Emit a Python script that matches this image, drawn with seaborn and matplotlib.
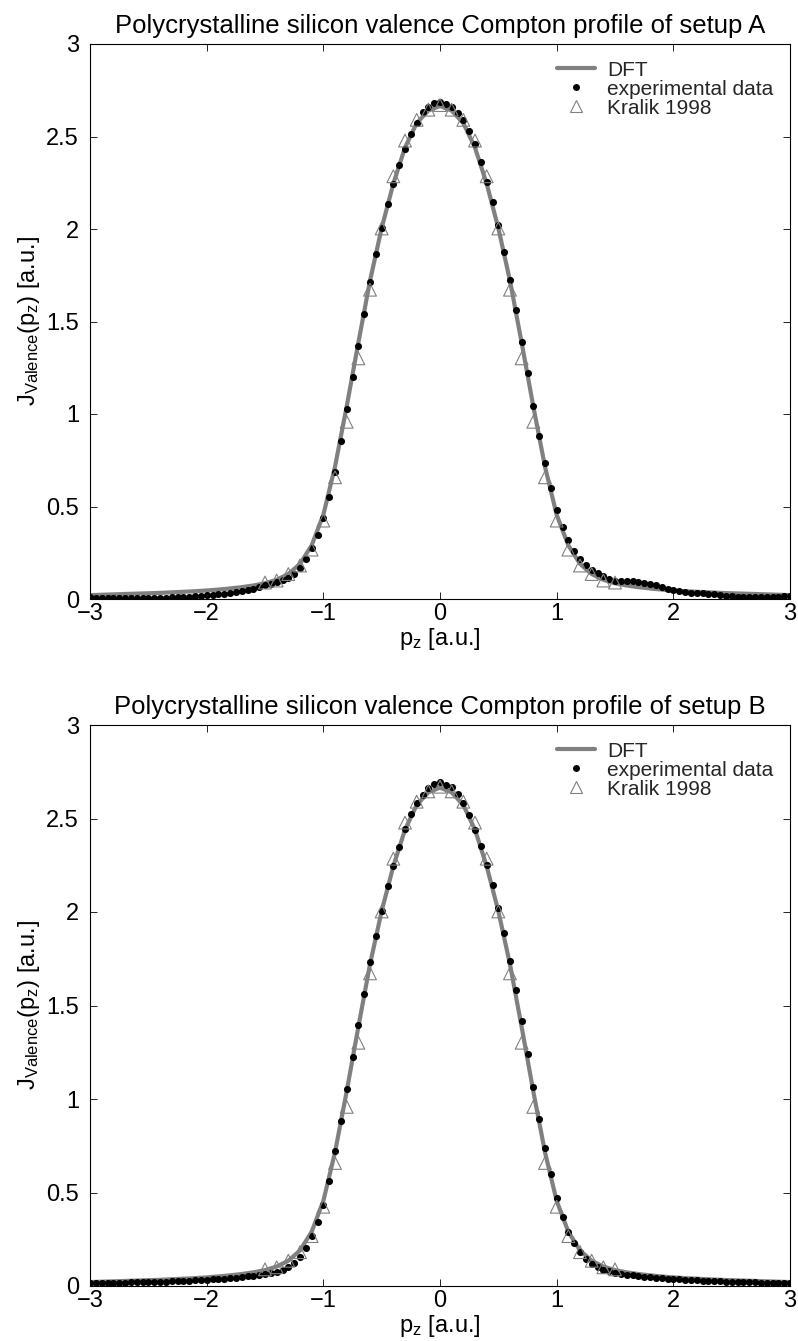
import numpy as np
import pandas as pd
import matplotlib
matplotlib.use("Agg")
import matplotlib.pyplot as plt
import seaborn as sns
from matplotlib.lines import Line2D

# ---------------- data ----------------
pz_exp = [-3.00, -2.95, -2.90, -2.85, -2.80, -2.75, -2.70, -2.65, -2.60, -2.55,
          -2.50, -2.45, -2.40, -2.35, -2.30, -2.25, -2.20, -2.15, -2.10, -2.05,
          -2.00, -1.95, -1.90, -1.85, -1.80, -1.75, -1.70, -1.65, -1.60, -1.55,
          -1.50, -1.45, -1.40, -1.35, -1.30, -1.25, -1.20, -1.15, -1.10, -1.05,
          -1.00, -0.95, -0.90, -0.85, -0.80, -0.75, -0.70, -0.65, -0.60, -0.55,
          -0.50, -0.45, -0.40, -0.35, -0.30, -0.25, -0.20, -0.15, -0.10, -0.05,
          0.00, 0.05, 0.10, 0.15, 0.20, 0.25, 0.30, 0.35, 0.40, 0.45,
          0.50, 0.55, 0.60, 0.65, 0.70, 0.75, 0.80, 0.85, 0.90, 0.95,
          1.00, 1.05, 1.10, 1.15, 1.20, 1.25, 1.30, 1.35, 1.40, 1.45,
          1.50, 1.55, 1.60, 1.65, 1.70, 1.75, 1.80, 1.85, 1.90, 1.95,
          2.00, 2.05, 2.10, 2.15, 2.20, 2.25, 2.30, 2.35, 2.40, 2.45,
          2.50, 2.55, 2.60, 2.65, 2.70, 2.75, 2.80, 2.85, 2.90, 2.95, 3.00]

j_exp_A = [0.010, 0.008, 0.007, 0.007, 0.006, 0.006, 0.006, 0.005, 0.005, 0.006,
           0.006, 0.006, 0.007, 0.008, 0.009, 0.010, 0.011, 0.013, 0.015, 0.017,
           0.020, 0.023, 0.026, 0.029, 0.033, 0.038, 0.043, 0.049, 0.056, 0.064,
           0.073, 0.082, 0.091, 0.101, 0.113, 0.133, 0.165, 0.216, 0.276, 0.347,
           0.439, 0.550, 0.689, 0.856, 1.025, 1.201, 1.369, 1.539, 1.715, 1.865,
           2.004, 2.134, 2.242, 2.344, 2.434, 2.515, 2.574, 2.630, 2.660, 2.681,
           2.688, 2.676, 2.658, 2.629, 2.588, 2.530, 2.457, 2.360, 2.255, 2.145,
           2.023, 1.877, 1.726, 1.561, 1.391, 1.219, 1.045, 0.879, 0.734, 0.602,
           0.482, 0.387, 0.317, 0.258, 0.216, 0.183, 0.158, 0.139, 0.124, 0.109,
           0.100, 0.097, 0.098, 0.097, 0.092, 0.085, 0.080, 0.073, 0.065, 0.056,
           0.048, 0.042, 0.037, 0.034, 0.032, 0.030, 0.027, 0.025, 0.022, 0.018,
           0.015, 0.010, 0.009, 0.009, 0.010, 0.011, 0.012, 0.012, 0.012, 0.014, 0.015]

j_exp_B = [0.015, 0.016, 0.016, 0.017, 0.017, 0.018, 0.018, 0.019, 0.020, 0.020,
           0.021, 0.022, 0.023, 0.024, 0.025, 0.026, 0.027, 0.029, 0.030, 0.032,
           0.034, 0.036, 0.038, 0.040, 0.042, 0.045, 0.048, 0.051, 0.055, 0.059,
           0.064, 0.070, 0.077, 0.087, 0.101, 0.122, 0.155, 0.203, 0.266, 0.343,
           0.435, 0.560, 0.724, 0.884, 1.056, 1.224, 1.395, 1.563, 1.730, 1.870,
           2.008, 2.139, 2.248, 2.350, 2.443, 2.522, 2.583, 2.623, 2.664, 2.686,
           2.693, 2.681, 2.668, 2.632, 2.585, 2.519, 2.440, 2.353, 2.253, 2.145,
           2.020, 1.890, 1.740, 1.583, 1.415, 1.242, 1.063, 0.893, 0.740, 0.600,
           0.470, 0.370, 0.290, 0.228, 0.180, 0.145, 0.118, 0.100, 0.088, 0.079,
           0.072, 0.066, 0.061, 0.057, 0.053, 0.050, 0.047, 0.044, 0.042, 0.040,
           0.038, 0.036, 0.034, 0.032, 0.031, 0.029, 0.028, 0.026, 0.025, 0.024,
           0.023, 0.022, 0.021, 0.020, 0.019, 0.018, 0.018, 0.017, 0.016, 0.016, 0.015]

pz_dft = [-3.0, -2.9, -2.8, -2.7, -2.6, -2.5, -2.4, -2.3, -2.2, -2.1,
          -2.0, -1.9, -1.8, -1.7, -1.6, -1.5, -1.4, -1.3, -1.2, -1.1,
          -1.0, -0.9, -0.8, -0.7, -0.6, -0.5, -0.4, -0.3, -0.2, -0.1,
          0.0, 0.1, 0.2, 0.3, 0.4, 0.5, 0.6, 0.7, 0.8, 0.9,
          1.0, 1.1, 1.2, 1.3, 1.4, 1.5, 1.6, 1.7, 1.8, 1.9,
          2.0, 2.1, 2.2, 2.3, 2.4, 2.5, 2.6, 2.7, 2.8, 2.9, 3.0]

j_dft = [0.021, 0.023, 0.025, 0.027, 0.029, 0.031, 0.033, 0.036, 0.039, 0.042,
         0.046, 0.051, 0.057, 0.064, 0.073, 0.085, 0.104, 0.135, 0.190, 0.290,
         0.455, 0.715, 1.040, 1.385, 1.720, 2.005, 2.245, 2.440, 2.572, 2.640,
         2.665, 2.640, 2.572, 2.440, 2.245, 2.005, 1.720, 1.385, 1.040, 0.715,
         0.455, 0.290, 0.190, 0.135, 0.104, 0.085, 0.073, 0.064, 0.057, 0.051,
         0.046, 0.042, 0.039, 0.036, 0.033, 0.031, 0.029, 0.027, 0.025, 0.023, 0.021]

pz_kralik = [-1.5, -1.4, -1.3, -1.2, -1.1, -1.0, -0.9, -0.8, -0.7, -0.6, -0.5,
             -0.4, -0.3, -0.2, -0.1, 0.0, 0.1, 0.2, 0.3, 0.4, 0.5,
             0.6, 0.7, 0.8, 0.9, 1.0, 1.1, 1.2, 1.3, 1.4, 1.5]

j_kralik = [0.089, 0.100, 0.135, 0.181, 0.267, 0.424, 0.658, 0.958, 1.301, 1.672, 2.003,
            2.285, 2.478, 2.590, 2.645, 2.670, 2.645, 2.590, 2.478, 2.285, 2.003,
            1.672, 1.301, 0.958, 0.658, 0.424, 0.267, 0.181, 0.135, 0.100, 0.089]

x_ticks = [-3, -2, -1, 0, 1, 2, 3]
x_tick_labels = ['\u22123', '\u22122', '\u22121', '0', '1', '2', '3']
y_ticks = [0, 0.5, 1, 1.5, 2, 2.5, 3]
y_tick_labels = ['0', '0.5', '1', '1.5', '2', '2.5', '3']
panel_titles = ['Polycrystalline silicon valence Compton profile of setup A',
                'Polycrystalline silicon valence Compton profile of setup B']
legend_labels = ['DFT', 'experimental data', 'Kralik 1998']
x_label = r'p$_{\mathrm{z}}$ [a.u.]'
y_label = r'J$_{\mathrm{Valence}}$(p$_{\mathrm{z}}$) [a.u.]'

# ---------------- style ----------------
sns.set_theme(style='white')
plt.rcParams['font.family'] = ['Liberation Sans', 'DejaVu Sans']
plt.rcParams['mathtext.fontset'] = 'custom'
plt.rcParams['mathtext.rm'] = 'Liberation Sans'
plt.rcParams['mathtext.it'] = 'Liberation Sans:italic'
plt.rcParams['axes.unicode_minus'] = True

GRAY = '#808080'
FS = 17
TFS = 18.5
LFS = 15

fig = plt.figure(figsize=(7.98, 13.41), dpi=100)
W, H = 798.0, 1341.0
ax_top = fig.add_axes([90 / W, 1 - 599 / H, 700 / W, 555 / H])
ax_bot = fig.add_axes([90 / W, 1 - 1286 / H, 700 / W, 561 / H])

for ax, j_exp, title in [(ax_top, j_exp_A, panel_titles[0]),
                         (ax_bot, j_exp_B, panel_titles[1])]:
    df_dft = pd.DataFrame({'pz': pz_dft, 'J': j_dft})
    df_exp = pd.DataFrame({'pz': pz_exp, 'J': j_exp})
    df_kr = pd.DataFrame({'pz': pz_kralik, 'J': j_kralik})

    sns.lineplot(data=df_dft, x='pz', y='J', ax=ax, color=GRAY, linewidth=3.0,
                 zorder=1, legend=False)
    sns.scatterplot(data=df_exp, x='pz', y='J', ax=ax, marker='o', s=26,
                    color='black', edgecolor='black', linewidth=0, zorder=2,
                    legend=False)
    sns.scatterplot(data=df_kr, x='pz', y='J', ax=ax, marker='^', s=85,
                    facecolors='none', edgecolor=GRAY, linewidth=0.8, zorder=3,
                    legend=False)

    ax.set_xlim(-3, 3)
    ax.set_ylim(0, 3)
    ax.set_xticks(x_ticks)
    ax.set_xticklabels(x_tick_labels, fontsize=FS)
    ax.set_yticks(y_ticks)
    ax.set_yticklabels(y_tick_labels, fontsize=FS)
    ax.tick_params(direction='in', length=5, width=0.6, top=True, right=True,
                   bottom=True, left=True, colors='black')
    ax.tick_params(axis='x', pad=3)
    ax.tick_params(axis='y', pad=8)
    for sp in ax.spines.values():
        sp.set_visible(True)
        sp.set_color('black')
        sp.set_linewidth(0.8)
    ax.set_xlabel(x_label, fontsize=FS, labelpad=0.5, color='black')
    ax.set_ylabel(y_label, fontsize=FS, labelpad=3, color='black')
    ax.set_title(title, fontsize=TFS, pad=8, color='black')

    handles = [Line2D([], [], color=GRAY, lw=3),
               Line2D([], [], marker='o', ls='', color='black', ms=5, mew=0),
               Line2D([], [], marker='^', ls='', mfc='none', mec=GRAY, ms=9, mew=0.8)]
    ax.legend(handles, legend_labels, loc='upper right', frameon=False,
              fontsize=LFS, handlelength=1.8, labelspacing=0.0,
              handletextpad=0.6, borderaxespad=0.5, borderpad=0.3)

fig.savefig('out.png', dpi=100)
